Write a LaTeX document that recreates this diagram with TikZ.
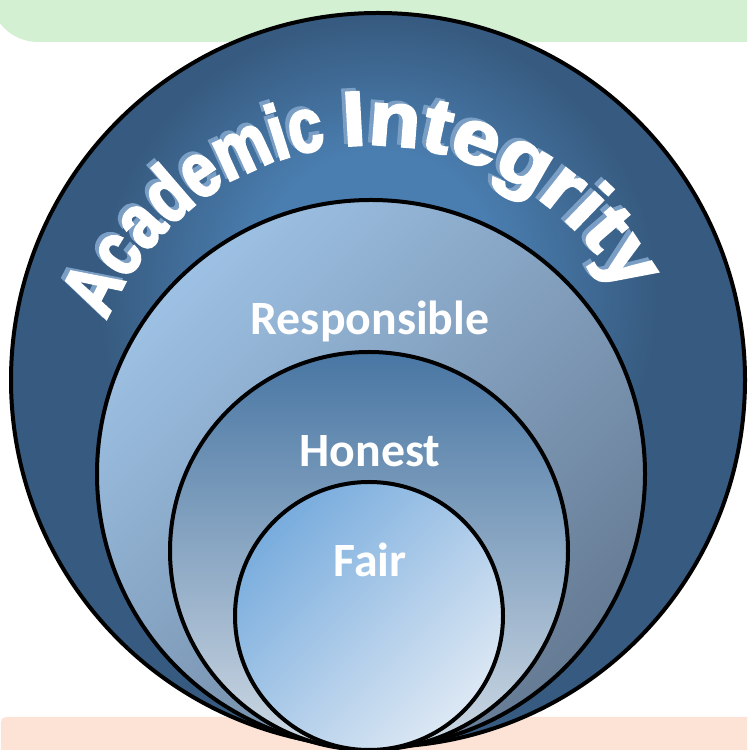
\documentclass[tikz,border=0pt]{standalone}
\usepackage{fontspec}
\usetikzlibrary{decorations.text}
\newfontfamily\titlefont{Liberation Sans Bold}[FakeBold=3]
\newfontfamily\ringfont{Carlito}
\definecolor{topband}{HTML}{D3F0D3}
\definecolor{bottomband}{HTML}{FDE3D6}
\definecolor{aiDark}{HTML}{375B80}
\definecolor{aiLight}{HTML}{4A7EB0}
\definecolor{aiShadow}{HTML}{7B9FC4}
\definecolor{respLight}{HTML}{9DC1E4}
\definecolor{respDark}{HTML}{667B94}
\definecolor{honTop}{HTML}{4876A3}
\definecolor{honBottom}{HTML}{CED9E4}
\definecolor{fairDeep}{HTML}{78ACDD}
\definecolor{fairPale}{HTML}{DDE8F4}
\pgfdeclareradialshading{aiglow}{\pgfpoint{0bp}{9bp}}{color(0bp)=(aiLight); color(8bp)=(aiLight); color(19bp)=(aiDark); color(50bp)=(aiDark)}
\newcommand{\arcfont}[1]{\titlefont\addfontfeature{FakeStretch=#1}\fontsize{22pt}{26pt}\selectfont}

\begin{document}
\begin{tikzpicture}[x=0.1mm, y=0.1mm, every node/.style={font=\ringfont\bfseries\fontsize{13.6pt}{16pt}\selectfont, text=white}]
\tikzset{
  ring/.style={draw=black, line width=0.4mm},
  ringlabel/.style={anchor=base, inner sep=0pt},
  arcword/.style n args={3}{decorate, decoration={text along path, text align=center, text color=#1,
    text={|\arcfont{#2}|#3}}}
}
\clip (0,0) rectangle (747,750);
% bands behind
\fill[topband, rounded corners=4.8mm] (-10,708) rectangle (800,820);
\fill[bottomband, rounded corners=0.5mm] (1,-40) rectangle (800,33);
% rings, outer to inner
\shade[ring, shading=aiglow] (378,370) circle[radius=367];
\shade[ring, top color=respLight, bottom color=respDark, shading angle=45] (371,276) circle[radius=274];
\shade[ring, top color=honTop, bottom color=honBottom] (369,199) circle[radius=199];
\shade[ring, top color=fairDeep, bottom color=fairPale, shading angle=45] (369,134) circle[radius=134];
% curved title, shadow first
\begin{scope}[shift={(-4,3)}]
  \path[arcword={aiShadow}{0.8}{Academic}] (371,318) ++(157:287) arc[start angle=157, end angle=99, radius=287];
  \path[arcword={aiShadow}{1.1}{Integrity}] (371,318) ++(96:287) arc[start angle=96, end angle=28, radius=287];
\end{scope}
\path[arcword={white}{0.8}{Academic}] (371,318) ++(157:287) arc[start angle=157, end angle=99, radius=287];
\path[arcword={white}{1.1}{Integrity}] (371,318) ++(96:287) arc[start angle=96, end angle=28, radius=287];
\node[ringlabel] (resp) at (370,415) {Responsible};
\node[ringlabel] (hon) at (370,283) {Honest};
\node[ringlabel] (fair) at (370,173) {Fair};
\end{tikzpicture}
\end{document}
